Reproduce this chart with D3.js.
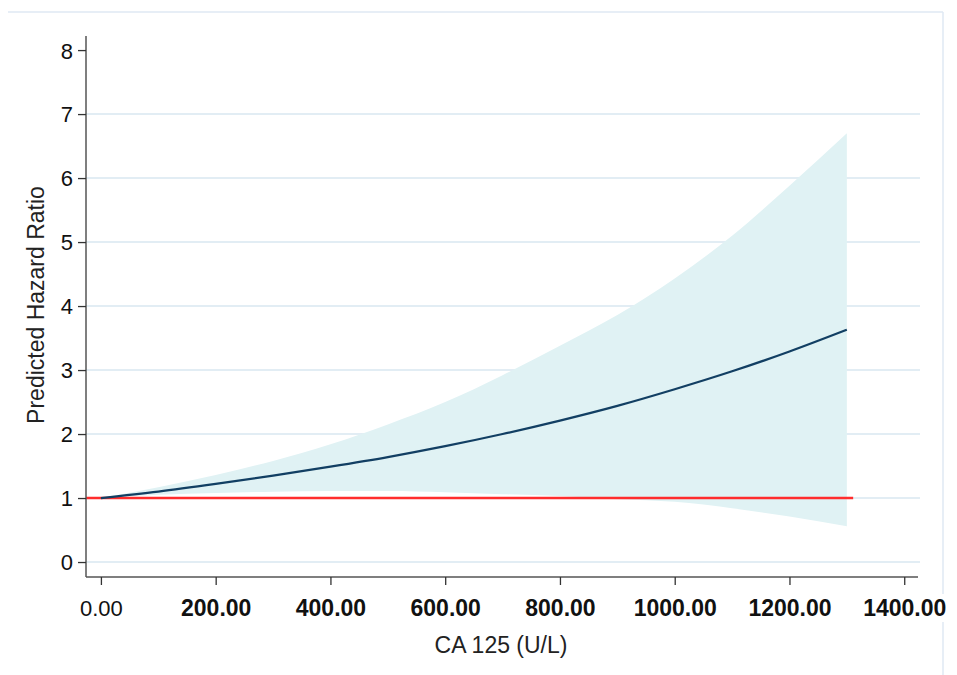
<!DOCTYPE html>
<html>
<head>
<meta charset="utf-8">
<script src="https://cdn.jsdelivr.net/npm/d3@7"></script>
<style>
  html, body { margin: 0; padding: 0; background: #fff; }
  svg { display: block; }
</style>
</head>
<body>
<svg id="chart" width="957" height="675"></svg>
<script>
// ---- data ----
const xValues   = [0, 100, 200, 300, 400, 500, 600, 700, 800, 900, 1000, 1100, 1200, 1300];
const hazard    = [1.00, 1.10, 1.22, 1.35, 1.49, 1.64, 1.81, 2.00, 2.21, 2.44, 2.70, 2.98, 3.29, 3.63];
const upperCI   = [1.00, 1.17, 1.36, 1.58, 1.84, 2.15, 2.50, 2.92, 3.38, 3.86, 4.43, 5.10, 5.88, 6.70];
const lowerCI   = [1.00, 1.05, 1.08, 1.10, 1.11, 1.11, 1.09, 1.06, 1.03, 0.98, 0.94, 0.84, 0.71, 0.56];
const refLineX  = [-26, 1311];
const refLineY  = 1;
const xTicks    = [0, 200, 400, 600, 800, 1000, 1200, 1400];
const xTickLabels = ["0.00", "200.00", "400.00", "600.00", "800.00", "1000.00", "1200.00", "1400.00"];
const yTicks    = [0, 1, 2, 3, 4, 5, 6, 7, 8];
const gridValues = [0, 1, 2, 3, 4, 5, 6, 7];
const xTitle = "CA 125 (U/L)";
const yTitle = "Predicted Hazard Ratio";

const svg = d3.select("#chart");

const x = d3.scaleLinear().domain([-26, 1424]).range([86, 918]);
const y = d3.scaleLinear().domain([-0.234, 8.22]).range([577, 36]);

// outer frame (light blue, top and right edges visible)
svg.append("line").attr("x1", 8).attr("x2", 943).attr("y1", 12).attr("y2", 12)
  .attr("stroke", "#dfe9f3").attr("stroke-width", 1.5);
svg.append("line").attr("x1", 943).attr("x2", 943).attr("y1", 12).attr("y2", 675)
  .attr("stroke", "#dfe9f3").attr("stroke-width", 1.5);

// gridlines
svg.append("g").selectAll("line").data(gridValues).join("line")
  .attr("x1", 86).attr("x2", 920)
  .attr("y1", d => y(d)).attr("y2", d => y(d))
  .attr("stroke", "#e2edf4").attr("stroke-width", 2);

const pts = xValues.map((v, i) => ({ x: v, hr: hazard[i], lo: lowerCI[i], hi: upperCI[i] }));

// CI band
svg.append("path").datum(pts)
  .attr("fill", "#e0f2f4")
  .attr("d", d3.area().x(d => x(d.x)).y0(d => y(d.lo)).y1(d => y(d.hi)).curve(d3.curveMonotoneX));

// reference line at HR = 1
svg.append("line")
  .attr("x1", x(refLineX[0])).attr("x2", x(refLineX[1]))
  .attr("y1", y(refLineY)).attr("y2", y(refLineY))
  .attr("stroke", "#ff2d2d").attr("stroke-width", 2.5);

// hazard curve
svg.append("path").datum(pts)
  .attr("fill", "none").attr("stroke", "#123f63").attr("stroke-width", 2.2)
  .attr("d", d3.line().x(d => x(d.x)).y(d => y(d.hr)).curve(d3.curveMonotoneX));

// y axis
const yAxis = svg.append("g").attr("transform", "translate(86,0)")
  .call(d3.axisLeft(y).tickValues(yTicks).tickSize(8).tickPadding(5).tickFormat(d3.format("d")));
yAxis.select(".domain").attr("stroke", "#555").attr("stroke-width", 1.5).attr("d", "M0,577V36");
yAxis.selectAll(".tick line").attr("stroke", "#333").attr("stroke-width", 1.3);
yAxis.selectAll(".tick text").attr("font-family", "Liberation Sans, Arial, sans-serif")
  .attr("font-size", 22).attr("fill", "#111").attr("dy", "0.36em");

// x axis
const xAxis = svg.append("g").attr("transform", "translate(0,577)")
  .call(d3.axisBottom(x).tickValues(xTicks).tickSize(8).tickPadding(0).tickFormat((d, i) => xTickLabels[i]));
xAxis.select(".domain").attr("stroke", "#555").attr("stroke-width", 1.5).attr("d", "M86,0H918");
xAxis.selectAll(".tick line").attr("stroke", "#333").attr("stroke-width", 1.3);
xAxis.selectAll(".tick").each(function(d, i) {
  const g = d3.select(this);
  const t = g.select("text")
    .attr("y", 39).attr("dy", 0)
    .attr("font-family", "Liberation Sans, Arial, sans-serif")
    .attr("font-size", i === 0 ? 22 : 23)
    .attr("font-weight", i === 0 ? "normal" : "bold")
    .attr("fill", "#111");
  const bb = t.node().getBBox();
  g.insert("rect", "text").attr("x", bb.x - 3).attr("y", bb.y - 1)
    .attr("width", bb.width + 6).attr("height", bb.height + 2).attr("fill", "#fff");
});

// axis titles
svg.append("text").attr("x", 501).attr("y", 653).attr("text-anchor", "middle")
  .attr("font-family", "Liberation Sans, Arial, sans-serif").attr("font-size", 23)
  .attr("fill", "#222").text(xTitle);
svg.append("text").attr("transform", "translate(44,305) rotate(-90)").attr("text-anchor", "middle")
  .attr("font-family", "Liberation Sans, Arial, sans-serif").attr("font-size", 23)
  .attr("fill", "#222").text(yTitle);
</script>
</body>
</html>
